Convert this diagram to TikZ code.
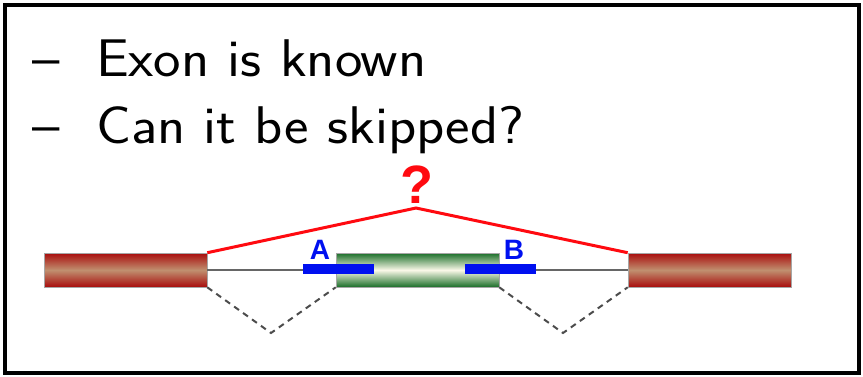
\documentclass[tikz,border=0pt]{standalone}
\usepackage{fontspec}
\usepackage{graphicx}
\usepackage{tikz}
\usetikzlibrary{positioning,calc}
\newfontfamily\arialish{Liberation Sans}
\definecolor{exonred}{HTML}{A80C0C}
\definecolor{exontan}{HTML}{C09070}
\definecolor{exongreen}{HTML}{1A6E28}
\definecolor{exoncream}{HTML}{FAF8E8}
\definecolor{primeblue}{HTML}{0010F0}
\definecolor{junctred}{HTML}{FF0A10}

\begin{document}
\begin{tikzpicture}[x=1pt, y=-1pt,
  flank/.style={rectangle, minimum width=163pt, minimum height=34pt, inner sep=0pt,
    draw=gray!70, line width=0.6pt, top color=exonred, bottom color=exonred, middle color=exontan},
  cassette/.style={rectangle, minimum width=163pt, minimum height=34pt, inner sep=0pt,
    draw=gray!70, line width=0.6pt, top color=exongreen, bottom color=exongreen, middle color=exoncream},
  primer/.style={fill=primeblue, minimum width=71pt, minimum height=10pt, inner sep=0pt},
  primerlab/.style={font=\arialish\bfseries\fontsize{28}{28}\selectfont, text=primeblue, inner sep=0pt},
  bullet/.style={font=\sffamily\fontsize{53}{62}\selectfont, anchor=base west, inner sep=0pt}
]
  \useasboundingbox (0,0) rectangle (863,376);
  \draw[line width=4pt] (5,5) rectangle (859,373);

  \node[bullet] (line1) at (32,76) {\scalebox{1.1}[1]{--\ \ Exon is known}};
  \node[bullet] (line2) at (32,143) {\scalebox{1.1}[1]{--\ \ Can it be skipped?}};

  % intron backbone
  \node[flank] (exL) at (125.5,270) {};
  \node[cassette] (exM) at (417.5,270) {};
  \node[flank] (exR) at (709.5,270) {};
  \draw[gray!80!black, line width=2.5pt] (exL.east) -- (exM.west);
  \draw[gray!80!black, line width=2.5pt] (exM.east) -- (exR.west);

  \node[primer] (pA) at (338.5,269) {};
  \node[primer] (pB) at (500.5,269) {};
  \node[primerlab, above=4pt of pA.north, xshift=-18.5pt] (labA) {A};
  \node[primerlab, above=4pt of pB.north, xshift=13.5pt] (labB) {B};

  % skipping junction
  \coordinate (apex) at (416,208);
  \draw[junctred, line width=3pt] (exL.north east) -- (apex) -- (exR.north west);
  \node[font=\arialish\bfseries\fontsize{54}{54}\selectfont, text=junctred, inner sep=0pt,
    anchor=base] (qmark) at ($(apex)+(1,-5)$) {?};

  % inclusion junctions
  \coordinate (dipL) at (271,333);
  \coordinate (dipR) at (563,333);
  \draw[gray!60!black, line width=2pt, dash pattern=on 6pt off 5pt]
    (exL.south east) -- (dipL) -- (exM.south west);
  \draw[gray!60!black, line width=2pt, dash pattern=on 6pt off 5pt]
    (exM.south east) -- (dipR) -- (exR.south west);
\end{tikzpicture}
\end{document}
